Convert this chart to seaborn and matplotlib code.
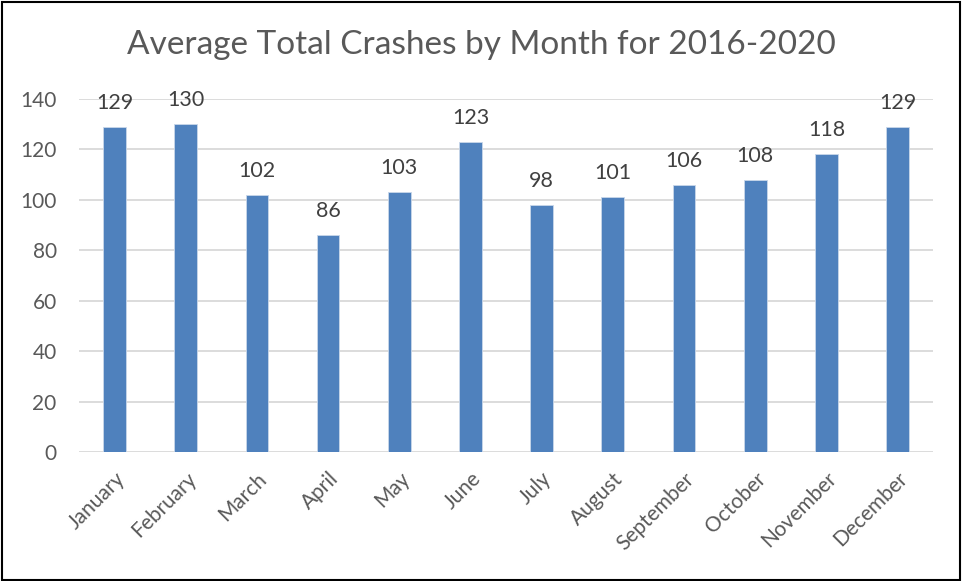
import matplotlib
matplotlib.use("Agg")
import matplotlib.pyplot as plt
import seaborn as sns
import pandas as pd
from matplotlib.patches import Rectangle

months = ["January", "February", "March", "April", "May", "June", "July",
          "August", "September", "October", "November", "December"]
crashes = [129, 130, 102, 86, 103, 123, 98, 101, 106, 108, 118, 129]
yticks = [0, 20, 40, 60, 80, 100, 120, 140]
title = "Average Total Crashes by Month for 2016-2020"

sns.set_theme(style="white")
plt.rcParams['font.family'] = ['Lato', 'DejaVu Sans']

df = pd.DataFrame({"Month": months, "Crashes": crashes})

fig = plt.figure(figsize=(9.63, 5.81), dpi=100)
ax = fig.add_axes([0.082, 0.222, 0.887, 0.608])

sns.barplot(data=df, x="Month", y="Crashes", color="#4F81BD", width=0.32,
            edgecolor="#c9d7ea", linewidth=0.6, saturation=1, ax=ax, zorder=3)

ax.set_ylim(0, 140)
ax.set_yticks(yticks)
ax.set_yticklabels([str(v) for v in yticks], fontsize=15, color="#595959")
ax.set_xticks(range(len(months)))
ax.set_xticklabels(months, rotation=45, ha="right", rotation_mode="anchor",
                   fontsize=15, color="#595959")
ax.tick_params(axis="y", length=0, pad=16)
ax.tick_params(axis="x", length=0, pad=12)
ax.set_xlabel("")
ax.set_ylabel("")
ax.set_xlim(-0.5, len(months) - 0.5)
ax.grid(axis="y", color="#D9D9D9", linewidth=1.3, zorder=0)
ax.set_axisbelow(True)
for s in ["top", "right", "left", "bottom"]:
    ax.spines[s].set_visible(False)

for container in ax.containers:
    ax.bar_label(container, labels=[str(v) for v in crashes], padding=10,
                 fontsize=15.5, color="#404040")

fig.text(0.5, 0.922, title, ha="center", va="center", fontsize=24, color="#595959")

fig.patches.append(Rectangle((0.002, 0.002), 0.995, 0.995, transform=fig.transFigure,
                             fill=False, edgecolor="black", linewidth=1.5))

fig.savefig("out.png", dpi=100)
